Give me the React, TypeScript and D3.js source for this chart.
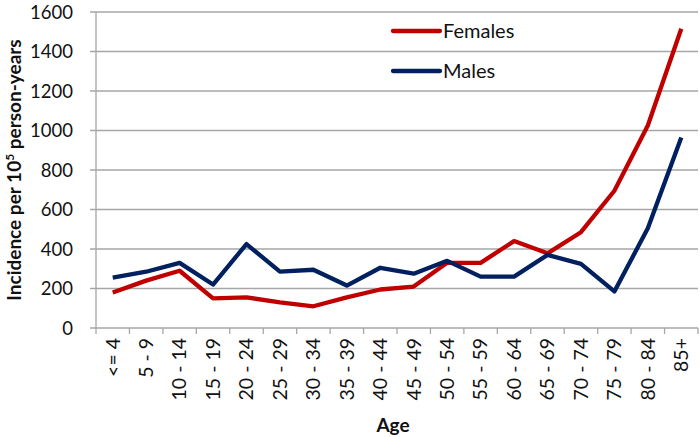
import React from "react";
import * as d3 from "d3";

const width = 700;
const height = 437;
const margin = { top: 12, right: 2, bottom: 109, left: 96 };

const ageGroups = [
  "<= 4", "5 - 9", "10 - 14", "15 - 19", "20 - 24", "25 - 29", "30 - 34", "35 - 39", "40 - 44",
  "45 - 49", "50 - 54", "55 - 59", "60 - 64", "65 - 69", "70 - 74", "75 - 79", "80 - 84", "85+",
];
const females = [180, 240, 290, 150, 155, 130, 110, 155, 195, 210, 330, 330, 440, 378, 485, 695, 1025, 1515];
const males = [255, 285, 330, 220, 425, 285, 295, 215, 305, 275, 340, 260, 260, 370, 325, 185, 505, 965];
const yTicks = [0, 200, 400, 600, 800, 1000, 1200, 1400, 1600];

const series = [
  { name: "Females", values: females, color: "#C00000" },
  { name: "Males", values: males, color: "#002060" },
];

const font = "Lato, 'Open Sans', sans-serif";
const gridColor = "#A6A6A6";

export default function App() {
  const x = d3
    .scaleBand<string>()
    .domain(ageGroups)
    .range([margin.left, width - margin.right]);
  const y = d3
    .scaleLinear()
    .domain([0, 1600])
    .range([height - margin.bottom, margin.top]);

  const line = d3
    .line<number>()
    .x((_, i) => (x(ageGroups[i]) as number) + x.bandwidth() / 2)
    .y((d) => y(d));

  const baseY = y(0);

  return (
    <svg width={width} height={height} style={{ position: "absolute", left: 0, top: 0 }}>
      <rect width={width} height={height} fill="#fff" />
      {/* gridlines + y ticks */}
      {yTicks.map((t) => (
        <g key={t}>
          <line x1={margin.left - 6} x2={width - margin.right} y1={y(t)} y2={y(t)} stroke={gridColor} strokeWidth={1.3} />
          <text x={73} y={y(t)} dy="0.37em" textAnchor="end" fontFamily={font} fontSize={18.5} fill="#111">
            {t}
          </text>
        </g>
      ))}
      {/* y axis line */}
      <line x1={margin.left} x2={margin.left} y1={margin.top} y2={baseY} stroke={gridColor} strokeWidth={1.3} />
      {/* x ticks */}
      {ageGroups.map((g) => (
        <line
          key={"t" + g}
          x1={x(g) as number}
          x2={x(g) as number}
          y1={baseY}
          y2={baseY + 6}
          stroke={gridColor}
          strokeWidth={1.3}
        />
      ))}
      <line x1={width - margin.right} x2={width - margin.right} y1={baseY} y2={baseY + 6} stroke={gridColor} strokeWidth={1.3} />
      {/* x labels */}
      {ageGroups.map((g) => {
        const cx = (x(g) as number) + x.bandwidth() / 2;
        return (
          <text
            key={"l" + g}
            transform={`translate(${cx},${baseY + 10}) rotate(-90)`}
            textAnchor="end"
            dy="0.35em"
            fontFamily={font}
            fontSize={19.5}
            fill="#111"
          >
            {g}
          </text>
        );
      })}
      {/* series */}
      {series.map((s) => (
        <path key={s.name} d={line(s.values) as string} fill="none" stroke={s.color} strokeWidth={4.3} strokeLinejoin="round" />
      ))}
      {/* legend */}
      {series.map((s, i) => (
        <g key={"lg" + s.name} transform={`translate(393,${31 + i * 40})`}>
          <line x1={0} x2={47} y1={0} y2={0} stroke={s.color} strokeWidth={4.3} strokeLinecap="round" />
          <text x={50} y={0} dy="0.35em" fontFamily={font} fontSize={20} fill="#111">
            {s.name}
          </text>
        </g>
      ))}
      {/* axis titles */}
      <text x={393} y={432} textAnchor="middle" fontFamily={font} fontSize={19} fontWeight="bold" fill="#111">
        Age
      </text>
      <text
        transform={`translate(21,${(margin.top + baseY) / 2}) rotate(-90)`}
        textAnchor="middle"
        fontFamily={font}
        fontSize={19}
        fontWeight="bold"
        fill="#111"
      >
        Incidence per 10
        <tspan fontSize={12} dy={-7}>5</tspan>
        <tspan dy={7}> person-years</tspan>
      </text>
    </svg>
  );
}
